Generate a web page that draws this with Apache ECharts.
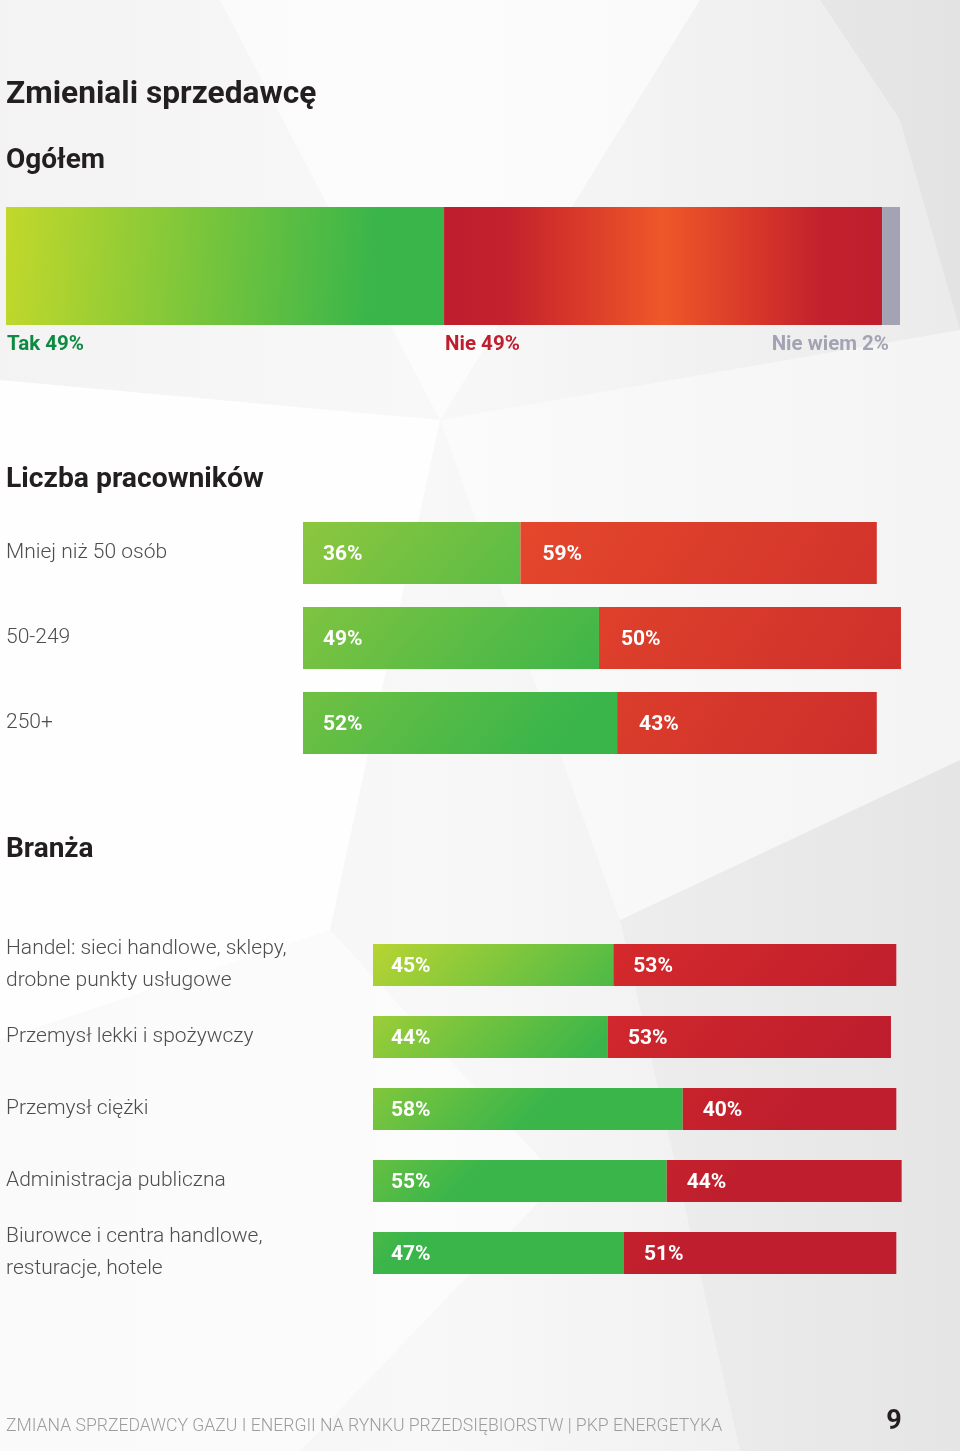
<!DOCTYPE html>
<html>
<head>
<meta charset="utf-8">
<script src="https://cdn.jsdelivr.net/npm/echarts@6/dist/echarts.min.js"></script>
<style>
html,body{margin:0;padding:0;background:#f1f1f1;}
#c{width:960px;height:1451px;}
</style>
</head>
<body>
<div id="c"></div>
<script>
// ---- data ----
const mainTitle = 'Zmieniali sprzedawcę';
const sectionTitles = ['Ogółem', 'Liczba pracowników', 'Branża'];
const overallNames = ['Tak', 'Nie', 'Nie wiem'];
const overallValues = [49, 49, 2];
const sizeCategories = ['Mniej niż 50 osób', '50-249', '250+'];
const sizeYes = [36, 49, 52];
const sizeNo = [59, 50, 43];
const industryCategories = [
  'Handel: sieci handlowe, sklepy,\ndrobne punkty usługowe',
  'Przemysł lekki i spożywczy',
  'Przemysł ciężki',
  'Administracja publiczna',
  'Biurowce i centra handlowe,\nresturacje, hotele'
];
const industryYes = [45, 44, 58, 55, 47];
const industryNo = [53, 53, 40, 44, 51];
const footerText = 'ZMIANA SPRZEDAWCY GAZU I ENERGII NA RYNKU PRZEDSIĘBIORSTW | PKP ENERGETYKA';
const pageNumber = '9';

// ---- chart ----
const chart = echarts.init(document.getElementById('c'), null, {renderer: 'canvas'});
const FONT = 'Roboto';
const G = echarts.graphic;

const overallFills = [
  new G.LinearGradient(0, 0, 1, 0.3, [
    {offset: 0, color: '#c2d82b'}, {offset: 0.85, color: '#39b54a'}, {offset: 1, color: '#39b54a'}]),
  new G.LinearGradient(0, 0, 1, 0, [
    {offset: 0, color: '#be1e2d'}, {offset: 0.14, color: '#c3212d'},
    {offset: 0.3, color: '#d83829'}, {offset: 0.5, color: '#ee5829'},
    {offset: 0.7, color: '#d83829'}, {offset: 0.86, color: '#c3212d'}, {offset: 1, color: '#be1e2d'}]),
  '#a3a3b3'
];
const overallLabelColors = ['#0f8a43', '#be1e2d', '#a3a3b3'];

const sizeGreen = new G.LinearGradient(303, 510, 560, 740, [
  {offset: 0, color: '#8fc73e'}, {offset: 1, color: '#39b54a'}], true);
const sizeRed = new G.LinearGradient(521, 522, 900, 754, [
  {offset: 0, color: '#e4472b'}, {offset: 1, color: '#cd2d2b'}], true);
const indGreen = new G.LinearGradient(373, 944, 540, 1110, [
  {offset: 0, color: '#b8d432'}, {offset: 1, color: '#39b54a'}], true);
const indRed = new G.LinearGradient(600, 944, 800, 1120, [
  {offset: 0, color: '#d52a2c'}, {offset: 1, color: '#be1e2d'}], true);

function hiddenX(gi) {
  return {type: 'value', gridIndex: gi, min: 0, max: 100, show: false};
}

const inLabel = (dist) => ({
  show: true, position: 'insideLeft', distance: dist, formatter: '{c}%', offset: [0, 2],
  color: '#ffffff', fontFamily: FONT, fontWeight: 'bold', fontSize: 21
});

const series = [];
overallNames.forEach((n, i) => {
  const last = i === overallNames.length - 1;
  series.push({
    type: 'bar', name: n, stack: 'o', xAxisIndex: 0, yAxisIndex: 0, barWidth: 118,
    data: [overallValues[i]],
    itemStyle: {color: overallFills[i]},
    label: {
      show: true, formatter: '{a} {c}%',
      position: last ? ['100%', 127] : [0, 127],
      align: last ? 'right' : 'left', verticalAlign: 'top',
      offset: last ? [-11, 0] : [1, 0],
      color: overallLabelColors[i], fontFamily: FONT, fontWeight: 'bold', fontSize: 20.5
    },
    silent: true
  });
});
series.push({type: 'bar', name: 'Tak', stack: 's', xAxisIndex: 1, yAxisIndex: 1, barWidth: 62,
  data: sizeYes, itemStyle: {color: sizeGreen}, label: inLabel(20), silent: true});
series.push({type: 'bar', name: 'Nie', stack: 's', xAxisIndex: 1, yAxisIndex: 1, barWidth: 62,
  data: sizeNo, itemStyle: {color: sizeRed}, label: inLabel(22), silent: true});
series.push({type: 'bar', name: 'Tak', stack: 'i', xAxisIndex: 2, yAxisIndex: 2, barWidth: 42,
  data: industryYes, itemStyle: {color: indGreen}, label: inLabel(18), silent: true});
series.push({type: 'bar', name: 'Nie', stack: 'i', xAxisIndex: 2, yAxisIndex: 2, barWidth: 42,
  data: industryNo, itemStyle: {color: indRed}, label: inLabel(20), silent: true});

const catLabel = (margin) => ({
  show: true, align: 'left', margin: margin, color: '#4d4d4d',
  fontFamily: FONT, fontWeight: 300, fontSize: 21, lineHeight: 32
});

const bg = [
  {type: 'rect', shape: {x: 0, y: 0, width: 960, height: 1451}, z: -20,
   style: {fill: new G.LinearGradient(0, 0, 1, 0, [
     {offset: 0, color: '#f3f3f3'}, {offset: 0.45, color: '#f8f8f8'}, {offset: 1, color: '#ebebeb'}])}},
  {type: 'polygon', z: -19, shape: {points: [[0, 380], [440, 420], [330, 930], [0, 1040]]},
   style: {fill: 'rgba(255,255,255,0.85)'}},
  {type: 'polygon', z: -19, shape: {points: [[220, 0], [700, 0], [440, 420]]},
   style: {fill: 'rgba(255,255,255,0.6)'}},
  {type: 'polygon', z: -19, shape: {points: [[440, 420], [960, 330], [960, 760], [620, 920]]},
   style: {fill: 'rgba(255,255,255,0.45)'}},
  {type: 'polygon', z: -19, shape: {points: [[0, 1040], [330, 930], [560, 1180], [300, 1451], [0, 1451]]},
   style: {fill: 'rgba(255,255,255,0.55)'}},
  {type: 'polygon', z: -19, shape: {points: [[820, 0], [960, 0], [960, 330], [900, 120]]},
   style: {fill: 'rgba(0,0,0,0.03)'}},
  {type: 'polygon', z: -19, shape: {points: [[620, 920], [960, 760], [960, 1451], [740, 1451]]},
   style: {fill: 'rgba(0,0,0,0.025)'}}
];

const texts = [
  {type: 'text', x: 6, y: 95, z: 10, style: {text: mainTitle, fill: '#231f20', font: 'bold 31.7px ' + FONT, textVerticalAlign: 'middle'}},
  {type: 'text', x: 6, y: 161, z: 10, style: {text: sectionTitles[0], fill: '#231f20', font: 'bold 28px ' + FONT, textVerticalAlign: 'middle'}},
  {type: 'text', x: 6, y: 480, z: 10, style: {text: sectionTitles[1], fill: '#231f20', font: 'bold 28.3px ' + FONT, textVerticalAlign: 'middle'}},
  {type: 'text', x: 6, y: 850, z: 10, style: {text: sectionTitles[2], fill: '#231f20', font: 'bold 28px ' + FONT, textVerticalAlign: 'middle'}},
  {type: 'text', x: 6, y: 1427, z: 10, style: {text: footerText, fill: '#9d9d9d', font: '300 17.6px ' + FONT, textVerticalAlign: 'middle'}},
  {type: 'text', x: 894, y: 1422, z: 10, style: {text: pageNumber, fill: '#231f20', font: 'bold 27px ' + FONT, textAlign: 'center', textVerticalAlign: 'middle'}}
];

chart.setOption({
  animation: false,
  backgroundColor: 'transparent',
  grid: [
    {left: 6, top: 207, width: 894, height: 118},
    {left: 303, top: 510.5, width: 604, height: 255},
    {left: 373, top: 929, width: 534, height: 360}
  ],
  xAxis: [hiddenX(0), hiddenX(1), hiddenX(2)],
  yAxis: [
    {type: 'category', gridIndex: 0, data: [sectionTitles[0]], show: false},
    {type: 'category', gridIndex: 1, data: sizeCategories, inverse: true,
     axisLine: {show: false}, axisTick: {show: false}, splitLine: {show: false}, axisLabel: catLabel(297)},
    {type: 'category', gridIndex: 2, data: industryCategories, inverse: true,
     axisLine: {show: false}, axisTick: {show: false}, splitLine: {show: false}, axisLabel: catLabel(367)}
  ],
  graphic: {elements: bg.concat(texts)},
  series: series
});
</script>
</body>
</html>
